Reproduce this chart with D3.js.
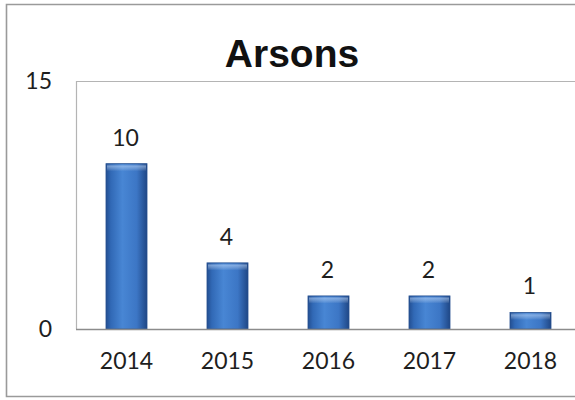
<!DOCTYPE html>
<html>
<head>
<meta charset="utf-8">
<script src="https://cdn.jsdelivr.net/npm/d3@7"></script>
<style>
  html, body { margin: 0; padding: 0; background: #fff; }
  svg { display: block; }
</style>
</head>
<body>
<svg id="chart" width="575" height="400"></svg>
<script>
// Arsons per year
const years = ["2014", "2015", "2016", "2017", "2018"];
const arsons = [10, 4, 2, 2, 1];
const yTicks = [0, 15];
const chartTitle = "Arsons";

const svg = d3.select("#chart");
const W = 575, H = 400;
const plot = { left: 76, right: 581, top: 81, bottom: 329 };

// outer chart frame
svg.append("path")
  .attr("d", `M ${W + 2} 4.5 H 6.5 V 396.5 H ${W + 2}`)
  .attr("fill", "none")
  .attr("stroke", "#9a9a9a")
  .attr("stroke-width", 1.6);

const x = d3.scaleBand()
  .domain(years)
  .range([plot.left, plot.right])
  .paddingInner(0.594)
  .paddingOuter(0.297);

const y = d3.scaleLinear()
  .domain([0, 15])
  .range([plot.bottom, plot.top]);

// bar shading
const defs = svg.append("defs");
const grad = defs.append("linearGradient")
  .attr("id", "barGrad")
  .attr("x1", "0%").attr("x2", "100%").attr("y1", "0%").attr("y2", "0%");
[
  ["0%", "#234f92"],
  ["12%", "#3169b6"],
  ["40%", "#4886d4"],
  ["75%", "#3c76c5"],
  ["100%", "#1f4786"]
].forEach(([o, c]) => grad.append("stop").attr("offset", o).attr("stop-color", c));

// soft highlight along the top edge of each bar
const capGrad = defs.append("linearGradient")
  .attr("id", "capGrad")
  .attr("x1", "0%").attr("x2", "0%").attr("y1", "0%").attr("y2", "100%");
[
  ["0%", "#ffffff", 0],
  ["30%", "#cfe4ff", 0.45],
  ["100%", "#ffffff", 0]
].forEach(([o, c, a]) => capGrad.append("stop")
  .attr("offset", o).attr("stop-color", c).attr("stop-opacity", a));

// plot frame (top and left)
svg.append("path")
  .attr("d", `M ${plot.left + 0.5} ${plot.bottom} V ${plot.top + 0.5} H ${W + 2}`)
  .attr("fill", "none")
  .attr("stroke", "#b4b4b4")
  .attr("stroke-width", 1.2);

// bars
const bars = svg.append("g").selectAll("g")
  .data(years.map((yr, i) => ({ yr, v: arsons[i] })))
  .join("g");

bars.append("rect")
  .attr("x", d => x(d.yr))
  .attr("y", d => y(d.v))
  .attr("width", x.bandwidth())
  .attr("height", d => y(0) - y(d.v))
  .attr("fill", "url(#barGrad)")
  .attr("stroke", "#26508f")
  .attr("stroke-width", 0.8);

bars.append("rect")
  .attr("x", d => x(d.yr) + 1)
  .attr("y", d => y(d.v) + 0.5)
  .attr("width", x.bandwidth() - 2)
  .attr("height", 7)
  .attr("fill", "url(#capGrad)");

// value labels
bars.append("text")
  .attr("x", d => x(d.yr) + x.bandwidth() / 2 - 1)
  .attr("y", d => y(d.v) - 18)
  .attr("text-anchor", "middle")
  .attr("font-family", "Lato, 'Liberation Sans', sans-serif")
  .attr("font-size", 23)
  .attr("fill", "#1e1e1e")
  .text(d => d.v);

// baseline axis
const xAxis = d3.axisBottom(x).tickSize(0).tickPadding(24);
const gx = svg.append("g")
  .attr("transform", `translate(0,${plot.bottom})`)
  .call(xAxis);
gx.select(".domain")
  .attr("d", `M ${plot.left} 0.5 H ${W + 2}`)
  .attr("stroke", "#8c8c8c")
  .attr("stroke-width", 1.5);
gx.selectAll("text")
  .attr("font-family", "Lato, 'Liberation Sans', sans-serif")
  .attr("font-size", 23)
  .attr("fill", "#1e1e1e")
  .attr("dy", "0.71em");

// value axis labels
const yAxis = d3.axisLeft(y).tickValues(yTicks).tickSize(0).tickPadding(24);
const gy = svg.append("g")
  .attr("transform", `translate(${plot.left},0)`)
  .call(yAxis);
gy.select(".domain").remove();
gy.selectAll("text")
  .attr("font-family", "Lato, 'Liberation Sans', sans-serif")
  .attr("font-size", 23)
  .attr("fill", "#1e1e1e");

// title
svg.append("text")
  .attr("x", 292)
  .attr("y", 67)
  .attr("text-anchor", "middle")
  .attr("font-family", "'Liberation Sans', Arial, sans-serif")
  .attr("font-weight", "bold")
  .attr("font-size", 39)
  .attr("fill", "#111")
  .text(chartTitle);
</script>
</body>
</html>
